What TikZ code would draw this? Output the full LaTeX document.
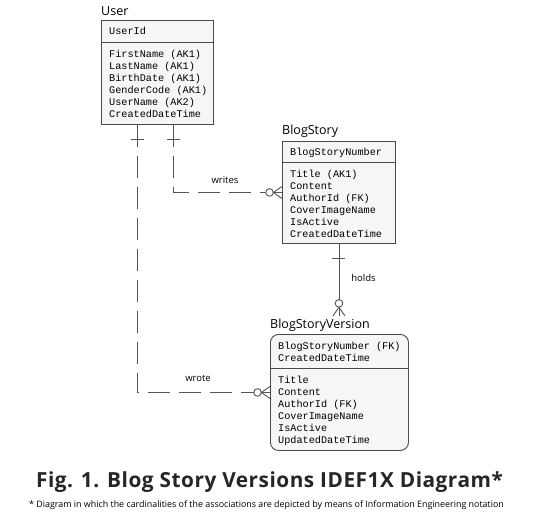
\documentclass[tikz,border=0pt]{standalone}
\usepackage{fontspec}
\setmainfont{Open Sans}
\newfontfamily\monof{Liberation Mono}
\newfontfamily\capfont[LetterSpace=2.5]{Open Sans}
\usetikzlibrary{calc}
\definecolor{edgec}{HTML}{4A4A4A}
\definecolor{linec}{HTML}{555555}
\definecolor{boxfill}{HTML}{F6F6F6}
\tikzset{
  entity/.style={draw=edgec, fill=boxfill, line width=0.9pt, inner sep=0pt, anchor=north west},
  divider/.style={draw=edgec, line width=0.9pt},
  attrs/.style={anchor=north west, inner sep=0pt, align=left, font=\monof\fontsize{10.2}{12}\selectfont},
  etitle/.style={anchor=base west, inner sep=0pt, font=\fontsize{12.5}{15}\selectfont},
  rellabel/.style={inner sep=0pt, font=\fontsize{9.5}{11}\selectfont},
  rel/.style={draw=linec, line width=0.9pt},
  idrel/.style={rel, dash pattern=on 22pt off 9pt},
  cap1/.style={inner sep=0pt, anchor=base, text=black!85, font=\capfont\bfseries\fontsize{20.8}{24}\selectfont},
  cap2/.style={inner sep=0pt, anchor=base, font=\fontsize{8.9}{10}\selectfont},
}
\newcommand{\zeromanyend}[2]{%
  \begin{scope}[shift={(#1)}, rotate=#2]
    \draw[rel] (-12.5,0) circle[radius=3.8pt];
    \draw[rel] (-8.7,0) -- (0,0);
    \draw[rel] (-8.7,0) -- (0,-6);
    \draw[rel] (-8.7,0) -- (0,6);
  \end{scope}}
\newcommand{\oneend}[2]{%
  \begin{scope}[shift={(#1)}, rotate=#2]
    \draw[rel] (-7.5,-6.5) -- (-7.5,6.5);
  \end{scope}}
\begin{document}
\begin{tikzpicture}[x=1pt,y=-1pt]
\useasboundingbox[fill=white] (0,0) rectangle (540,512);

% User
\node[etitle] (usertitle) at (101,15) {User};
\node[entity, minimum width=112pt, minimum height=104pt] (user) at (101,20) {};
\draw[divider] (101,42) -- (213,42);
\node[attrs] (userkey) at (109,26.1) {\strut UserId};
\node[attrs] (userattr) at (109,48.9) {\strut FirstName (AK1)\\LastName (AK1)\\BirthDate (AK1)\\GenderCode (AK1)\\UserName (AK2)\\CreatedDateTime};

% BlogStory
\node[etitle] (storytitle) at (282,134) {BlogStory};
\node[entity, minimum width=113pt, minimum height=102pt] (story) at (282,141) {};
\draw[divider] (282,162) -- (395,162);
\node[attrs] (storykey) at (290,146.6) {\strut BlogStoryNumber};
\node[attrs] (storyattr) at (290,168.6) {\strut Title (AK1)\\Content\\AuthorId (FK)\\CoverImageName\\IsActive\\CreatedDateTime};

% BlogStoryVersion
\node[etitle] (versiontitle) at (270,328.5) {BlogStoryVersion};
\node[entity, rounded corners=8pt, minimum width=138pt, minimum height=116pt] (version) at (270,334) {};
\draw[divider] (270,368) -- (408,368);
\node[attrs] (versionkey) at (278,340.6) {\strut BlogStoryNumber (FK)\\CreatedDateTime};
\node[attrs] (versionattr) at (278,375.1) {\strut Title\\Content\\AuthorId (FK)\\CoverImageName\\IsActive\\UpdatedDateTime};

% writes
\coordinate (wstart) at ($(user.south west)+(72,0)$);
\coordinate (wend) at ($(story.west)+(-16.3,0)$);
\draw[idrel] (wstart) |- (wend);
\oneend{$(wstart)+(0,7.5)$}{90}
\zeromanyend{story.west}{0}
\node[rellabel] (writeslabel) at (225,180) {writes};

% wrote
\coordinate (vstart) at ($(user.south west)+(36,0)$);
\coordinate (vend) at ($(version.west)+(-16.3,0)$);
\draw[idrel] (vstart) |- (vend);
\oneend{$(vstart)+(0,7.5)$}{90}
\zeromanyend{version.west}{0}
\node[rellabel] (wrotelabel) at (198,378) {wrote};

% holds
\coordinate (hend) at ($(story.south)+(0,72)$);
\draw[rel] (story.south) -- ($(hend)+(0,-16.3)$);
\oneend{$(story.south)+(0,7.5)$}{90}
\zeromanyend{hend}{-90}
\node[rellabel] (holdslabel) at (363.5,278) {holds};

% caption
\node[cap1] (caption) at (269.5,487) {Fig. 1. Blog Story Versions IDEF1X Diagram*};
\node[cap2] (note) at (266.5,507) {* Diagram in which the cardinalities of the associations are depicted by means of Information Engineering notation};
\end{tikzpicture}
\end{document}
